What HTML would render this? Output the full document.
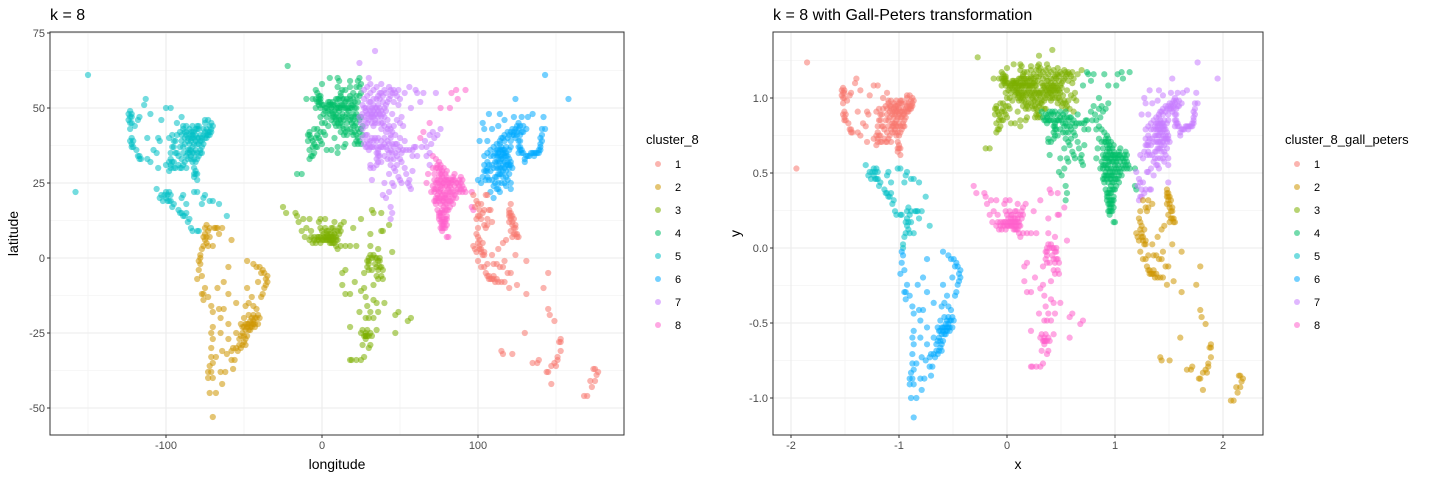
<!DOCTYPE html>
<html><head><meta charset="utf-8">
<style>
html,body{margin:0;padding:0;background:#fff;}
svg{display:block;font-family:"Liberation Sans",Arial,sans-serif;}
</style></head>
<body>
<svg id="chart" width="1440" height="480" viewBox="0 0 1440 480" xmlns="http://www.w3.org/2000/svg">
<rect width="1440" height="480" fill="#fff"/>
<g id="left"></g>
<g id="right"></g>
</svg>
<script>
const colors = ["#F8766D","#CD9600","#7CAE00","#00BE67","#00BFC4","#00A9FF","#C77CFF","#FF61CC"];
const legendLabels = ["1","2","3","4","5","6","7","8"];
const lonTicks = [-100,0,100];
const latTicks = [-50,-25,0,25,50,75];
const gxTicks = [-2,-1,0,1,2];
const gyTicks = [-1.0,-0.5,0.0,0.5,1.0];

const northAmerica = [[-123,49],[-122,47],[-123,45],[-122,38],[-121,37],[-118,34],[-117,33],[-122,40],[-120,44],[-117,47],[-112,40],[-112,33],[-105,40],[-106,35],[-104,39],[-97,33],[-95,30],[-97,30],[-98,29],[-96,37],[-94,39],[-90,39],[-88,42],[-87,42],[-84,42],[-83,40],[-81,41],[-80,40],[-77,39],[-75,40],[-74,41],[-73,42],[-71,42],[-71,45],[-73,46],[-75,45],[-79,44],[-80,43],[-84,34],[-85,36],[-86,36],[-82,35],[-80,35],[-78,36],[-77,35],[-81,28],[-82,28],[-80,26],[-90,30],[-92,31],[-89,35],[-93,45],[-97,50],[-114,51],[-113,53],[-123,39],[-158,22],[-150,61],[-124,48],[-123,43],[-118,46],[-83,42],[-86,40],[-88,38],[-76,43],[-72,44],[-78,41],[-82,38],[-84,39],[-85,43],[-79,38],[-77,37],[-76,38],[-81,32],[-83,32],[-86,33],[-87,30],[-95,32],[-98,32],[-100,31],[-96,41],[-91,42],[-89,44],[-103,46],[-80,44],[-75,46],[-72,41],[-74,43],[-88,32],[-93,35],[-95,37],[-105,30],[-110,32],[-108,36],[-122,45],[-90,47],[-110,48],[-100,50],[-81,36],[-82,30],
[-122,37],[-121,39],[-119,36],[-117,34],[-116,33],[-123,47],[-122,48],[-124,46],[-87,41],[-88,40],[-86,39],[-85,41],[-84,40],[-83,41],[-82,40],[-81,39],[-80,38],[-79,40],[-78,39],[-77,40],[-76,41],[-75,42],[-74,40],[-73,41],[-72,42],[-71,43],[-70,44],[-79,43],[-81,43],[-82,42],[-84,36],[-83,35],[-85,35],[-86,35],[-87,34],[-84,33],[-82,33],[-80,33],[-79,34],[-78,35],[-96,32],[-97,31],[-94,30],[-91,30],[-89,31],[-90,33],[-92,34],[-94,35],[-97,35],[-95,39],[-93,41],[-90,41],[-89,43],[-87,44],[-83,44],[-82,27],[-81,29],[-80,28],[-98,40],[-83,37],[-85,38],[-89,37],[-91,37]];
const centralAmerica = [[-99,19],[-103,21],[-90,15],[-88,14],[-86,12],[-84,10],[-80,9],[-77,18],[-76,20],[-72,19],[-66,18],[-70,19],[-89,21],[-96,17],[-92,16],[-87,15],[-83,9],[-79,9],[-61,14],[-100,20],[-98,19],[-101,21],[-104,20],[-106,23],[-97,21],[-90,20],[-87,18],[-82,22],[-80,22],[-75,21],[-99,21],[-102,19],[-97,19],[-95,18],[-91,15],[-89,14],[-85,13],[-100,22],[-98,22]];
const northSA = [[-74,5],[-75,10],[-72,7],[-67,10],[-66,8],[-76,4],[-78,1],[-75,6],[-70,4],[-64,10],[-58,6],[-73,9],[-77,3],[-74,11],[-69,10],[-76,7],[-73,4],[-78,0],[-74,7],[-75,8],[-68,10],[-72,10]];
const southAmerica = [[-78,-2],[-79,-4],[-80,-7],[-77,-12],[-76,-14],[-71,-16],[-70,-18],[-70,-23],[-70,-27],[-71,-30],[-71,-33],[-72,-36],[-73,-38],[-73,-40],[-72,-45],[-70,-53],[-66,-17],[-65,-25],[-64,-31],[-60,-27],[-58,-34],[-58,-31],[-56,-34],[-52,-30],[-55,-25],[-51,-25],[-49,-27],[-47,-24],[-46,-23],[-44,-22],[-43,-23],[-45,-20],[-44,-19],[-42,-17],[-40,-20],[-39,-13],[-38,-12],[-35,-8],[-35,-6],[-38,-4],[-42,-3],[-44,-2],[-48,-1],[-48,-10],[-49,-16],[-47,-15],[-55,-15],[-60,-3],[-60,-12],[-63,-8],[-67,-10],[-50,-20],[-52,-22],[-48,-22],[-45,-13],[-41,-8],[-37,-10],[-54,-31],[-68,-33],[-65,-38],[-62,-38],[-57,-37],[-68,-45],[-64,-42],[-70,-40],[-46,-21],[-47,-19],[-48,-26],[-49,-24],[-50,-28],[-51,-29],[-53,-27],[-44,-16],[-43,-20],[-45,-23],[-79,-1],[-77,-6],[-73,-13],[-65,-20],[-61,-32],
[-47,-22],[-46,-24],[-45,-22],[-44,-21],[-43,-22],[-42,-20],[-41,-19],[-41,-22],[-48,-23],[-49,-22],[-50,-23],[-51,-23],[-52,-26],[-50,-26],[-49,-29],[-53,-29],[-55,-30],[-57,-30],[-36,-9],[-36,-7],[-37,-5],[-39,-5],[-40,-3],[-75,-10],[-76,-12],[-71,-25],[-70,-35],[-71,-38],[-63,-17],[-60,-22]];
const europe = [[-9,39],[-8,42],[-6,37],[-4,40],[-3,43],[-1,47],[0,51],[2,49],[2,45],[4,44],[5,52],[4,51],[7,51],[9,48],[8,45],[10,45],[11,44],[12,42],[14,41],[16,41],[13,48],[16,48],[14,50],[19,50],[21,52],[18,54],[12,55],[10,57],[18,59],[24,60],[25,55],[-3,55],[-6,53],[-1,53],[-4,56],[-2,52],[3,47],[6,46],[8,49],[11,49],[13,53],[17,52],[20,48],[22,45],[21,42],[23,38],[15,38],[-8,33],[-5,35],[-7,34],[3,36],[6,36],[10,35],[10,37],[-16,28],[-13,28],[0,58],[5,60],[10,60],[-10,53],[-4,50],[-22,64],[14,37],[20,44],[26,44],[24,42],[18,46],[16,45],[1,48],[3,50],[6,50],[9,53],[12,51],[15,52],[19,47],[22,50],[7,47],[12,46],[9,44],[-2,40],[-5,43],[-3,37],[-9,41],[0,45],[5,48],[10,51],[14,46],[17,49],[23,52],[20,55],[25,58],[-1,50],[-2,54],[-8,36],[-6,34],[2,41],[8,40],
[4,52],[5,51],[6,51],[7,52],[8,51],[9,50],[10,50],[11,50],[12,50],[13,51],[14,51],[15,50],[16,50],[17,50],[18,50],[19,51],[20,51],[21,50],[22,48],[23,47],[24,46],[25,47],[21,47],[19,45],[20,46],[17,47],[15,47],[13,47],[11,47],[9,47],[8,47],[7,48],[6,49],[4,49],[2,50],[1,51],[-1,52],[-2,51],[-3,52],[-2,53],[-4,53],[-1,54],[9,46],[11,46],[12,45],[13,44],[14,43],[15,42],[16,43],[18,43],[19,42],[20,41],[22,41],[23,40],[24,39],[25,38],[22,39],[21,38],[26,41],[25,43],[23,43],[21,44],[10,53],[11,53],[12,54],[14,53],[16,53],[18,53],[20,53],[22,54],[24,54],[24,57],[22,57],[23,59],[18,57],[15,56],[13,56],[11,59],[-4,37],[-5,38],[-6,39],[-7,40],[-8,41],[-3,41],[-1,42],[1,42],[-1,39],[0,38]];
const eastEurope = [[28,41],[29,41],[30,46],[30,50],[31,47],[32,47],[35,48],[37,48],[37,55],[38,55],[40,56],[44,56],[49,56],[50,53],[53,55],[56,57],[30,60],[38,58],[40,47],[43,44],[45,42],[47,41],[50,40],[52,44],[35,57],[50,45],[24,65],[34,69],[49,51],[42,46],[33,44],[27,53],[29,54],[31,52],[24,47],[25,45],[27,47],[36,51],[39,52],[41,49],[45,48],[33,49],[28,50],[31,55],[36,54],[46,52],[28,44],[40,44],[39,45],[44,41],[26,43],[34,46],
[27,50],[28,49],[29,48],[30,48],[31,49],[32,50],[33,51],[34,50],[35,50],[36,49],[37,50],[38,49],[39,48],[40,50],[41,51],[42,52],[43,53],[44,54],[45,55],[46,56],[47,55],[48,54],[26,51],[26,48],[28,46],[29,45],[32,45],[34,45],[36,45],[38,45],[38,47],[36,47],[34,48],[33,47],[32,48],[30,52],[33,53],[35,53],[37,53],[39,54],[41,55],[43,57],[31,58],[33,56],[27,56],[29,57],[38,43],[42,43],[44,43],[41,42],[46,44],[48,46],[51,47]];
const middleEast = [[60,56],[61,55],[65,55],[73,55],[57,50],[63,52],[69,41],[71,42],[76,43],[66,39],[59,37],[52,36],[51,35],[48,34],[46,33],[44,33],[44,36],[40,38],[35,39],[33,39],[37,37],[35,33],[36,32],[35,31],[33,30],[31,30],[39,21],[40,25],[45,25],[47,29],[50,26],[51,25],[55,25],[56,24],[57,23],[45,15],[44,13],[58,29],[53,30],[61,34],[67,34],[69,35],[27,38],[26,40],[44,40],[31,31],[32,26],[39,37],[36,36],[38,32],[42,36],[43,28],[46,30],[51,32],[54,28],[48,38],[53,39],[30,36],[32,37],[36,34],
[29,39],[30,38],[31,39],[32,40],[34,40],[36,40],[38,39],[40,40],[42,39],[43,38],[41,37],[38,37],[35,37],[33,37],[31,37],[29,37],[28,37],[35,35],[36,35],[37,34],[43,35],[45,35],[47,35],[49,36],[50,37],[47,38],[45,38],[46,37],[54,36],[56,36],[58,36],[50,33],[48,31],[44,31],[42,33],[40,34],[46,24],[43,22],[41,20],[44,17],[49,27],[56,26],[58,34],[60,37],[64,37],[67,37],[70,38],[72,40],[74,41],[69,31]];
const southAsia = [[72,19],[73,19],[73,18],[74,16],[75,15],[76,10],[77,9],[77,13],[78,11],[79,13],[80,13],[80,16],[78,17],[76,18],[77,21],[79,21],[75,22],[73,23],[72,23],[70,22],[72,26],[75,27],[77,28],[77,29],[76,30],[78,30],[80,27],[81,26],[83,25],[85,26],[85,24],[86,22],[88,22],[88,24],[90,24],[91,23],[92,22],[90,26],[86,20],[84,18],[82,17],[81,21],[79,24],[74,31],[75,32],[71,34],[73,33],[67,25],[68,28],[80,7],[81,7],[96,17],[96,22],[97,16],[85,28],[89,27],[63,40],[65,42],[69,45],[76,50],[83,55],[87,53],[82,50],[92,56],[86,56],[78,13],[75,13],[79,10],[76,12],[74,20],[77,24],[82,24],[76,26],[78,26],[80,24],[81,23],[75,20],[77,16],[78,19],[83,21],[87,23],[89,25],[84,27],[74,26],[76,22],[79,18],[77,11],[76,15],
[73,20],[74,21],[75,19],[76,20],[77,19],[78,20],[79,20],[80,20],[81,19],[80,18],[79,16],[78,15],[77,15],[76,14],[75,14],[77,12],[78,12],[79,12],[78,10],[77,10],[80,11],[80,14],[81,16],[82,19],[83,19],[84,20],[85,21],[84,22],[83,23],[82,22],[80,22],[78,22],[76,23],[74,23],[72,22],[71,24],[73,25],[74,25],[75,25],[76,24],[77,25],[78,25],[79,26],[80,26],[81,25],[82,25],[83,26],[84,26],[86,25],[87,25],[88,26],[89,23],[90,22],[76,28],[75,29],[74,30],[76,31],[77,27],[79,28],[80,29],[72,28],[73,30],[71,30]];
const eastAsia = [[104,31],[106,30],[108,34],[112,34],[113,35],[114,38],[116,40],[117,39],[119,40],[121,39],[118,37],[120,36],[117,32],[119,32],[121,31],[120,30],[115,28],[113,28],[112,23],[113,23],[114,22],[110,20],[119,26],[121,25],[121,23],[125,44],[126,45],[123,42],[124,40],[126,37],[127,37],[129,35],[127,36],[128,36],[126,39],[130,33],[131,34],[135,35],[136,35],[137,35],[139,36],[140,36],[140,38],[141,39],[141,41],[141,43],[143,43],[133,34],[132,34],[130,32],[129,44],[131,43],[117,46],[114,48],[107,48],[103,45],[101,39],[100,26],[102,25],[106,27],[104,43],[108,22],[111,27],[116,35],[115,33],[122,30],[113,44],[128,47],[132,47],[124,53],[135,48],[142,47],[106,39],[109,43],[143,61],[158,53],[110,30],[118,24],[114,30],[116,31],[118,34],[117,36],[115,37],[113,32],[111,32],[120,41],[122,41],[125,42],[127,44],[127,39],[126,35],[128,35],[138,35],[139,35],[140,37],[140,40],[136,34],[134,35],[110,34],[107,31],[105,29],[112,27],[118,29],[120,28],[123,47],[121,37],
[112,30],[113,30],[115,30],[116,29],[117,30],[118,31],[119,31],[120,31],[121,32],[120,33],[119,34],[118,35],[117,35],[116,36],[115,36],[114,36],[113,36],[112,36],[111,35],[113,34],[114,34],[115,34],[116,33],[117,34],[114,32],[112,32],[114,28],[116,27],[118,27],[117,25],[115,25],[113,25],[111,25],[110,24],[109,26],[107,26],[105,26],[103,27],[104,29],[106,29],[108,29],[109,31],[106,32],[104,34],[106,35],[108,36],[110,37],[112,38],[114,39],[115,40],[117,41],[119,42],[121,42],[123,41],[122,43],[124,43],[126,43],[125,41],[127,41],[128,42],[129,42]];
const seAsiaNorth = [[98,17],[99,19],[100,18],[102,18],[105,21],[106,21],[121,18],[97,21],[104,16],[101,16],[103,15],[107,16],[108,16],[100,14],[101,14],[99,13]];
const seAsia = [[105,10],[106,11],[101,3],[102,3],[103,1],[104,1],[101,6],[100,5],[98,3],[99,2],[100,-1],[102,-3],[104,-3],[105,-5],[106,-6],[107,-7],[110,-7],[112,-7],[113,-8],[115,-8],[117,-8],[119,-5],[117,-1],[114,-3],[110,-2],[109,1],[113,3],[116,5],[118,6],[121,15],[120,16],[121,14],[123,10],[124,10],[125,7],[122,7],[123,13],[124,1],[125,-9],[131,-1],[120,-10],[108,-7],[106,-2],[102,13],[97,4],[111,-8],[116,-3],[121,-5],[100,7],[104,11],[109,12],[106,13],[120,12],[122,11],[124,8],[121,9],[100,10],[99,8],[103,5],[110,-6],[112,-2],[120,14],[121,13],[122,14],[120,15],[104,2],[102,2],[101,4],[107,-6],[109,-7],[122,12],[124,11],[123,8],[125,8],[126,7]];
const oceania = [[116,-32],[115,-31],[138,-35],[144,-38],[145,-38],[151,-34],[151,-33],[153,-27],[153,-28],[146,-19],[145,-17],[149,-21],[131,-12],[130,-25],[147,-42],[174,-37],[175,-37],[175,-41],[173,-43],[170,-46],[168,-46],[153,-31],[150,-36],[139,-34],[135,-35],[122,-32],[147,-36],[149,-35],[152,-28],[176,-39],[177,-38],[172,-41],[142,-10],[145,-5]];
const africa = [[-17,15],[-16,14],[-15,12],[-13,9],[-11,7],[-8,6],[-6,5],[-4,5],[-2,6],[-1,5],[0,6],[1,6],[2,6],[3,7],[3,6],[4,7],[5,6],[6,5],[7,5],[7,6],[8,5],[8,9],[7,10],[5,8],[3,9],[-1,10],[-2,12],[-1,13],[2,13],[8,12],[12,11],[14,12],[-8,13],[-12,13],[-10,10],[9,4],[10,3],[12,4],[15,4],[18,4],[15,-4],[13,-5],[13,-9],[15,-12],[18,-12],[21,-8],[25,-11],[28,-13],[29,-16],[31,-18],[33,-14],[35,-15],[36,-18],[33,-20],[28,-20],[26,-24],[28,-26],[28,-25],[25,-25],[31,-29],[30,-30],[27,-33],[25,-34],[18,-34],[19,-34],[22,-34],[32,-26],[35,-24],[38,-6],[39,-7],[37,-3],[37,-1],[35,0],[32,0],[33,1],[30,-2],[29,-3],[32,-4],[36,-7],[38,9],[39,9],[38,15],[33,15],[32,16],[45,2],[43,11],[36,3],[33,-9],[47,-19],[49,-18],[47,-25],[55,-21],[57,-20],[22,4],[31,4],[27,-5],[40,-15],[31,8],[25,13],[20,10],[-23,15],[-25,17],[27,-10],[24,-18],[18,-23],[4,9],[6,7],[9,7],[10,6],[11,8],[1,8],[-3,7],[-5,7],[-7,9],[0,9],[2,10],[6,10],[12,9],[36,-1],[34,-2],[30,-20],[29,-24],[26,-29],
[4,6],[5,7],[6,6],[7,7],[8,7],[8,8],[6,8],[5,5],[3,8],[2,7],[1,7],[-1,7],[-2,7],[-3,6],[-5,6],[-7,7],[9,6],[10,9],[11,10],[28,-26],[27,-26],[29,-26],[28,-27],[30,-26],[31,-25],[35,-3],[36,-4],[34,0],[31,1],[30,0],[37,0],[38,-3],[39,-4],[35,-6],[30,-4],[29,-1],[30,-1]];

const regionList = [northAmerica, centralAmerica, northSA, southAmerica, europe, eastEurope, middleEast, southAsia, eastAsia, seAsiaNorth, seAsia, oceania, africa];
const clusterK8 = [5,5,2,2,4,7,7,8,6,1,1,1,3];
const clusterGP = [1,5,5,6,3,3,4,4,7,7,2,2,8];

const NS="http://www.w3.org/2000/svg";
function el(tag, attrs, parent){const e=document.createElementNS(NS,tag);for(const k in attrs)e.setAttribute(k,attrs[k]);parent.appendChild(e);return e;}

function buildPanel(g, cfg){
  const {x0,x1,y0,y1,xs,ys,xMajor,xMinor,yMajor,yMinor,xLab,yLab,title,xTitle,yTitle,legendTitle,legX}=cfg;
  xMinor.forEach(v=>{const l=el('line',{x1:xs(v),x2:xs(v),y1:y0,y2:y1,stroke:'#F4F4F4','stroke-width':0.8},g);
    });
  yMinor.forEach(v=>{const l=el('line',{x1:x0,x2:x1,y1:ys(v),y2:ys(v),stroke:'#F4F4F4','stroke-width':0.8},g);
    });
  xMajor.forEach(v=>{const l=el('line',{x1:xs(v),x2:xs(v),y1:y0,y2:y1,stroke:'#EBEBEB','stroke-width':1.1},g);
    });
  yMajor.forEach(v=>{const l=el('line',{x1:x0,x2:x1,y1:ys(v),y2:ys(v),stroke:'#EBEBEB','stroke-width':1.1},g);
    });
  regionList.forEach((pts,ri)=>{
    const c=colors[(cfg.clusters[ri])-1];
    pts.forEach(p=>{
      const [px,py]=cfg.proj(p);
      const cx=xs(px), cy=ys(py);
      if(cx<x0||cx>x1||cy<y0||cy>y1) return;
      const d=el('circle',{cx:cx,cy:cy,r:3.1,fill:c,'fill-opacity':0.55},g);
      
      
    });
  });
  const b=el('rect',{x:x0,y:y0,width:x1-x0,height:y1-y0,fill:'none',stroke:'#333','stroke-width':1},g);
  
  xMajor.forEach((v,i)=>{
    const t=el('line',{x1:xs(v),x2:xs(v),y1:y1,y2:y1+3,stroke:'#333'},g);
    
    const tx=el('text',{x:xs(v),y:y1+14,'text-anchor':'middle','font-size':11,fill:'#4D4D4D'},g);
    tx.textContent=xLab[i];
    
  });
  yMajor.forEach((v,i)=>{
    const t=el('line',{x1:x0-3,x2:x0,y1:ys(v),y2:ys(v),stroke:'#333'},g);
    
    const tx=el('text',{x:x0-5,y:ys(v)+4,'text-anchor':'end','font-size':11,fill:'#4D4D4D'},g);
    tx.textContent=yLab[i];
    
  });
  const tt=el('text',{x:x0,y:20,'font-size':16,fill:'#000'},g);tt.textContent=title;
  
  const xt=el('text',{x:(x0+x1)/2,y:469,'text-anchor':'middle','font-size':14,fill:'#000'},g);xt.textContent=xTitle;
  
  const yc=(y0+y1)/2, yx=cfg.yTitleX;
  const yt=el('text',{x:yx,y:yc,'text-anchor':'middle','font-size':14,fill:'#000',transform:`rotate(-90 ${yx} ${yc})`},g);yt.textContent=yTitle;
  
  const lt=el('text',{x:legX,y:144,'font-size':13,fill:'#000'},g);lt.textContent=legendTitle;
  
  legendLabels.forEach((lab,i)=>{
    const y=164+i*23;
    const c=el('circle',{cx:legX+12,cy:y,r:3,fill:colors[i],'fill-opacity':0.55},g);
    
    const t=el('text',{x:legX+29,y:y+4,'font-size':11,fill:'#000'},g);t.textContent=lab;
    
  });
}

buildPanel(document.getElementById('left'),{
  x0:50,x1:624,y0:32,y1:435,
  xs:v=>322+v*1.56, ys:v=>258-v*3,
  xMajor:lonTicks, xMinor:[-150,-50,50,150], yMajor:latTicks, yMinor:[-37.5,-12.5,12.5,37.5,62.5],
  xLab:lonTicks.map(String), yLab:latTicks.map(String),
  proj:p=>p, clusters:clusterK8,
  title:'k = 8', xTitle:'longitude', yTitle:'latitude', yTitleX:18,
  legendTitle:'cluster_8', legX:646
});
buildPanel(document.getElementById('right'),{
  x0:773,x1:1263,y0:32,y1:435,
  xs:v=>1007+v*108, ys:v=>248-v*150,
  xMajor:gxTicks, xMinor:[-1.5,-0.5,0.5,1.5], yMajor:gyTicks, yMinor:[-0.75,-0.25,0.25,0.75,1.25],
  xLab:gxTicks.map(String), yLab:gyTicks.map(v=>v.toFixed(1)),
  proj:p=>[p[0]*Math.PI/180/Math.SQRT2, Math.SQRT2*Math.sin(p[1]*Math.PI/180)], clusters:clusterGP,
  title:'k = 8 with Gall-Peters transformation', xTitle:'x', yTitle:'y', yTitleX:740,
  legendTitle:'cluster_8_gall_peters', legX:1285
});
</script>
</body></html>
